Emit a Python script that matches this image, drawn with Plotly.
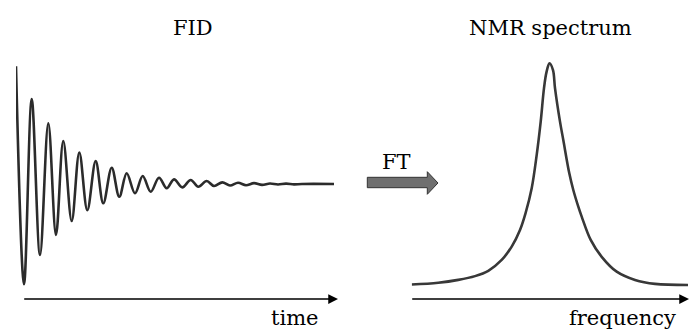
import plotly.graph_objects as go

# ---- FID (free induction decay): extrema ----
fid_time = [0.000, 0.252, 0.494, 0.755, 1.016, 1.258, 1.487, 1.752, 1.991, 2.242,
            2.506, 2.745, 3.009, 3.248, 3.481, 3.742, 3.984, 4.236, 4.497, 4.739,
            4.969, 5.230, 5.494, 5.733, 5.997, 6.226, 6.487, 6.730, 6.981, 7.233,
            7.484, 7.736, 7.987, 8.239, 8.491, 8.742, 8.994, 10.000]
fid_amp = [0.990, -0.842, 0.714, -0.597, 0.510, -0.429, 0.361, -0.311, 0.265, -0.220,
           0.192, -0.162, 0.137, -0.107, 0.090, -0.078, 0.067, -0.065, 0.053, -0.036,
           0.039, -0.028, 0.034, -0.023, 0.025, -0.017, 0.014, -0.013, 0.010, -0.010,
           0.007, -0.007, 0.004, -0.004, 0.003, -0.003, 0.000, 0.000]

# ---- NMR spectrum (single Lorentzian-like peak) ----
spec_freq = [-13.83, -11.17, -9.17, -7.5, -6.17, -4.83, -3.83, -3.0, -2.45, -1.83, -1.33,
             -0.93, -0.6, -0.35, -0.05, 0.3, 0.5, 1.0, 1.33, 1.93, 2.33, 2.83, 3.17, 4.07,
             5.17, 6.67, 8.5, 10.5, 13.8]
spec_int = [0.002, 0.010, 0.023, 0.040, 0.064, 0.113, 0.173, 0.248, 0.323, 0.436, 0.586,
            0.736, 0.887, 0.959, 0.999, 0.968, 0.887, 0.736, 0.653, 0.503, 0.428, 0.353,
            0.308, 0.203, 0.127, 0.060, 0.023, 0.005, 0.000]

W, H = 690, 329
FONT = "DejaVu Serif"

fig = go.Figure()
fig.add_trace(go.Scatter(x=fid_time, y=fid_amp, mode="lines",
                         line=dict(color="#2b2b2b", width=2.6, shape="spline", smoothing=1.0),
                         xaxis="x", yaxis="y", hoverinfo="skip"))
fig.add_trace(go.Scatter(x=spec_freq, y=spec_int, mode="lines",
                         line=dict(color="#383838", width=2.6, shape="spline", smoothing=1.0),
                         xaxis="x2", yaxis="y2", hoverinfo="skip"))

hidden = dict(visible=False, showgrid=False, zeroline=False, fixedrange=True)


def px(x):
    return x / W


def py(y):
    return 1 - y / H


fig.update_layout(
    width=W, height=H,
    margin=dict(l=0, r=0, t=0, b=0),
    paper_bgcolor="white", plot_bgcolor="rgba(0,0,0,0)",
    showlegend=False,
    xaxis=dict(domain=[px(16), px(334)], range=[0, 10], anchor="y", **hidden),
    yaxis=dict(domain=[py(303), py(65)], range=[-1, 1], anchor="x", **hidden),
    xaxis2=dict(domain=[px(411.7), px(688)], range=[-13.83, 13.8], anchor="y2", **hidden),
    yaxis2=dict(domain=[py(307.2), py(51.9)], range=[-0.1, 1.05], anchor="x2", **hidden),
)

# block arrow for FT (pixel outline converted to paper fractions)
outline = [(367.3, 177.3), (427.3, 177.3), (427.3, 171.7), (438, 183),
           (427.3, 194.3), (427.3, 187.7), (367.3, 187.7)]
path = "M " + " L ".join(f"{px(a):.5f} {py(b):.5f}" for a, b in outline) + " Z"
fig.add_shape(type="path", xref="paper", yref="paper", path=path,
              fillcolor="#6f6f6f", line=dict(color="#333333", width=1))


def axis_arrow(x0, x1, y):
    fig.add_annotation(x=px(x1), y=py(y), xref="paper", yref="paper",
                       ax=-(x1 - x0), ay=0, text="", showarrow=True, arrowhead=2,
                       arrowsize=1.5, arrowwidth=1.3, arrowcolor="black")


axis_arrow(22.7, 338, 299)
axis_arrow(410.7, 693, 299)


def label(text, x, y):
    fig.add_annotation(x=px(x), y=py(y), xref="paper", yref="paper", text=text,
                       showarrow=False, font=dict(family=FONT, size=21, color="black"),
                       xanchor="center", yanchor="middle")


label("FID", 193, 28)
label("NMR spectrum", 550, 28)
label("FT", 396, 162)
label("time", 295, 318)
label("frequency", 622, 318)

fig.write_html("out.html")
